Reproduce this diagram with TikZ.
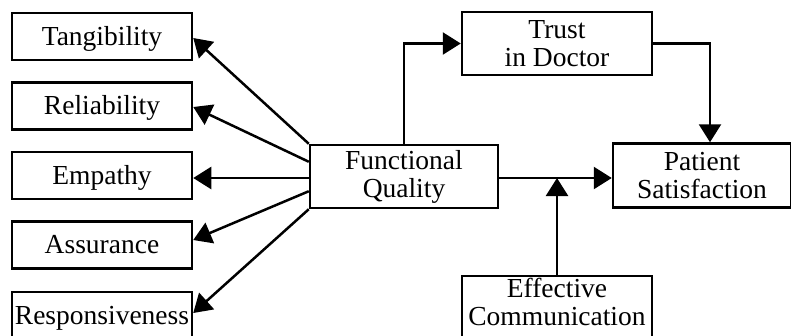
\documentclass[tikz,border=0pt]{standalone}
\usepackage{fontspec}
\setmainfont{Liberation Serif}
\usetikzlibrary{arrows.meta}
\begin{document}
\begin{tikzpicture}[x=1pt,y=-1pt,
  box/.style={draw,line width=2.5pt,inner sep=0pt,align=center,
    font=\fontsize{27.5}{28}\selectfont},
  lbox/.style={box,minimum width=180pt,minimum height=47pt,text height=20pt,text depth=3pt},
  bbox/.style={box,minimum width=190pt,minimum height=63pt},
  arr/.style={line width=2.5pt,-{Triangle[length=18pt,width=22pt]}}]
\clip (0,0) rectangle (791,335);
\node[lbox] (tan) at (102,36.5) {Tangibility};
\node[lbox] (rel) at (102,106) {Reliability};
\node[lbox] (emp) at (102,175.5) {Empathy};
\node[lbox] (ass) at (102,245) {Assurance};
\node[lbox] (res) at (102,315.5) {Responsiveness};
\node[box,minimum width=188pt,minimum height=63pt] (fq) at (404,176.5) {Functional\\Quality};
\node[bbox] (tr) at (557,43.5) {Trust\\in Doctor};
\node[box,minimum width=178pt,minimum height=64pt] (ps) at (702,175.5) {Patient\\Satisfaction};
\node[bbox,text depth=12pt] (ec) at (557,307.5) {Effective\\Communication};
\coordinate (tr1) at (404,43.5);
\coordinate (tr2) at (710,43.5);
\coordinate (m) at (557,178);
\draw[arr] (fq.north) -- (tr1) -- (tr.west);
\draw[arr] (tr.east) -- (tr2) -- (tr2 |- ps.north);
\draw[arr] (fq.east |- m) -- (ps.west |- m);
\draw[arr] (ec.north) -- (m);
\draw[arr] (fq.north west) -- (tan.east |- 0,38);
\draw[arr] ([yshift=-18pt]fq.north west) -- (rel.east |- 0,107);
\draw[arr] (fq.west |- m) -- (emp.east |- m);
\draw[arr] ([yshift=18pt]fq.south west) -- (ass.east |- 0,240);
\draw[arr] (fq.south west) -- (res.east |- 0,313);
\end{tikzpicture}
\end{document}
